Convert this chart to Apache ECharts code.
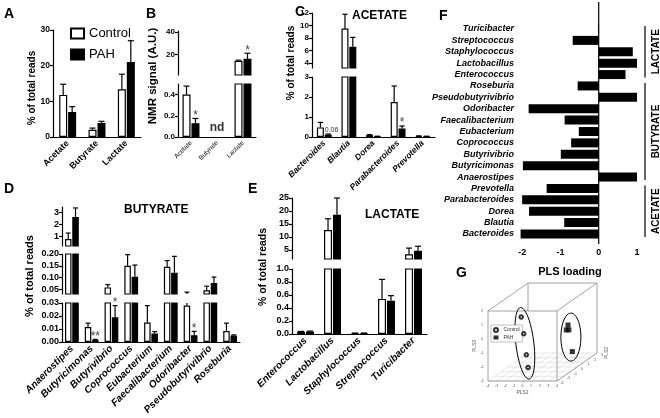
<!DOCTYPE html>
<html><head><meta charset="utf-8">
<script src="https://cdn.jsdelivr.net/npm/echarts@6/dist/echarts.min.js"></script>
<style>html,body{margin:0;padding:0;background:#fff}#c{width:660px;height:418px}</style>
</head><body><div id="c"></div><script>
// ================= DATA =================
// A: % of total reads
const aCats = ['Acetate', 'Butyrate', 'Lactate'];
const aCtrl = [11.8, 2.0, 13.4];
const aCtrlSem = [3.0, 0.5, 4.2];
const aPah = [7.0, 3.9, 21.0];
const aPahSem = [1.5, 0.5, 6.0];

// B: NMR signal (A.U.)
const bCats = ['Acetate', 'Butyrate', 'Lactate'];
const bCtrl = [0.40, null, 14.5];
const bCtrlSem = [0.08, null, 0.6];
const bPah = [0.13, null, 16.3];
const bPahSem = [0.045, null, 5.0];
const bPahSig = ['*', '', '*'];
const bNotDetected = ['', 'nd', ''];

// C: ACETATE producers
const cCats = ['Bacteroides', 'Blautia', 'Dorea', 'Parabacteroides', 'Prevotella'];
const cCtrl = [0.48, 9.5, 0.10, 1.75, 0.05];
const cCtrlSem = [0.25, 2.3, 0.02, 0.8, 0.01];
const cPah = [0.12, 6.6, 0.03, 0.42, 0.03];
const cPahSem = [0.03, 1.5, 0.01, 0.13, 0.01];
const cPahNote = ['0.06', '', '', '*', ''];

// D: BUTYRATE producers
const dCats = ['Anaerostipes', 'Butyricimonas', 'Butyrivibrio', 'Coprococcus', 'Eubacterium',
  'Faecalibacterium', 'Odoribacter', 'Pseudobutyrivibrio', 'Roseburia'];
const dCtrl = [0.78, 0.0115, 0.058, 0.150, 0.015, 0.146, 0.028, 0.046, 0.0085];
const dCtrlSem = [0.50, 0.003, 0.012, 0.047, 0.013, 0.026, 0.010, 0.017, 0.006];
const dPah = [2.62, 0.0015, 0.019, 0.103, 0.0065, 0.120, 0.0052, 0.077, 0.005];
const dPahSem = [0.75, 0.0005, 0.009, 0.050, 0.0015, 0.070, 0.003, 0.025, 0.0005];
const dPahSig = ['', '**', '*', '', '', '', '*', '', ''];

// E: LACTATE producers
const eCats = ['Enterococcus', 'Lactobacillus', 'Staphylococcus', 'Streptococcus', 'Turicibacter'];
const eCtrl = [0.035, 12.7, 0.012, 0.54, 3.3];
const eCtrlSem = [0.005, 4.3, 0.003, 0.30, 2.4];
const ePah = [0.040, 18.5, 0.012, 0.51, 4.7];
const ePahSem = [0.005, 6.5, 0.003, 0.08, 1.7];

// F: PLS loadings
const fCats = ['Turicibacter', 'Streptococcus', 'Staphylococcus', 'Lactobacillus', 'Enterococcus',
  'Roseburia', 'Pseudobutyrivibrio', 'Odoribacter', 'Faecalibacterium', 'Eubacterium', 'Coprococcus',
  'Butyrivibrio', 'Butyricimonas', 'Anaerostipes', 'Prevotella', 'Parabacteroides', 'Dorea', 'Blautia', 'Bacteroides'];
const fLoad = [-0.02, -0.68, 0.89, 1.0, 0.70, -0.55, 1.0, -1.83, -0.89, -0.52, -0.72,
  -0.99, -1.98, 1.0, -1.36, -2.0, -1.82, -0.90, -2.04];
const fGroupNames = ['LACTATE', 'BUTYRATE', 'ACETATE'];
const fGroupFrom = [0, 5, 14];
const fGroupTo = [4, 13, 18];
const fTicks = [-2, -1, 0, 1];

// G: PLS scores [PLS1, PLS2, PLS3]
const gCtrl = [[-1.7, -1, 0.9], [-1.4, -1, -0.3], [-1.1, -1, -1.8], [-0.9, -1, -2.7]];
const gPah = [[1.8, 1.5, -0.5], [1.6, 1.5, -0.85], [1.9, 1.5, -0.85], [2.3, 1.5, -2.4]];
const gTicks1 = [-4, -3, -2, -1, 0, 1, 2, 3, 4];
const gTicks2 = [-3, -2, -1, 0, 1, 2, 3];
const gTicks3 = [-3, -2, -1, 0, 1, 2];

// ================= BUILD =================
const FONT = '"Liberation Sans", Arial, sans-serif';
const BLACK = '#000';
const grids = [], xAxes = [], yAxes = [], series = [];

function errSeries(gi, cfg, grp) {
  const vals = grp ? cfg.pah : cfg.ctrl, sems = grp ? cfg.pahSem : cfg.ctrlSem;
  const notes = (grp ? cfg.pahNote : cfg.ctrlNote) || [];
  const data = [], txt = [];
  vals.forEach((v, i) => { if (v == null) return; data.push([i, v, v + (sems[i] || 0)]); txt.push(notes[i] || ''); });
  const off = (grp ? 1 : -1) * cfg.barW * 0.56;
  const capW = cfg.barW * 0.75;
  return {
    type: 'custom', xAxisIndex: gi, yAxisIndex: gi, z: 4, silent: true, encode: { x: 0, y: [1, 2] }, data,
    renderItem(params, api) {
      const cs = params.coordSys, top = cs.y, bot = cs.y + cs.height;
      const i = api.value(0);
      const x = api.coord([i, 0])[0] + off;
      const yv = api.coord([i, api.value(1)])[1];
      const ye = api.coord([i, api.value(2)])[1];
      const st = { stroke: BLACK, lineWidth: 1.2 };
      const ch = [];
      const y1 = Math.min(yv, bot), y2 = Math.max(ye, top);
      if (y1 - y2 > 0.5) ch.push({ type: 'line', shape: { x1: x, y1: y1, x2: x, y2: y2 }, style: st });
      const capIn = ye >= top - 0.3 && ye < bot - 0.2;
      if (capIn) ch.push({ type: 'line', shape: { x1: x - capW / 2, y1: ye, x2: x + capW / 2, y2: ye }, style: st });
      const t = txt[params.dataIndex];
      if (t && capIn) {
        const isNum = /\d/.test(t);
        ch.push({ type: 'text', x: isNum ? x - 3.5 : x, y: isNum ? ye - 0.5 : ye + 3,
          style: { text: t, fill: isNum ? '#333' : '#444', fontSize: isNum ? 7 : 12, fontFamily: FONT,
            align: isNum ? 'left' : 'center', verticalAlign: 'bottom' } });
      }
      return { type: 'group', children: ch };
    }
  };
}

function panel(cfg) {
  const ids = [];
  cfg.segs.forEach((s, k) => {
    const last = k === cfg.segs.length - 1;
    const gi = grids.length; ids.push(gi);
    grids.push({ left: cfg.left, top: s.top, width: cfg.width, height: s.height, outerBoundsMode: 'none', containLabel: false });
    xAxes.push({
      type: 'category', gridIndex: gi, data: cfg.cats, show: last,
      axisLine: { onZero: false, lineStyle: { color: BLACK, width: 1.2 } },
      axisTick: { alignWithLabel: true, length: 3, lineStyle: { color: BLACK, width: 1.2 } },
      axisLabel: Object.assign({ interval: 0, rotate: 45, margin: 5, color: BLACK, fontFamily: FONT }, cfg.xLabel),
      splitLine: { show: false }
    });
    const fmt = s.fmt || (v => String(v));
    const ya = {
      type: 'value', gridIndex: gi, min: s.min, max: s.max, splitLine: { show: false },
      axisLine: { show: true, onZero: false, lineStyle: { color: BLACK, width: 1.2 } },
      axisTick: { show: true, length: 3, lineStyle: { color: BLACK, width: 1.2 }, customValues: s.ticks },
      axisLabel: { fontSize: cfg.yfs || 9, fontWeight: 'bold', color: BLACK, margin: 3, fontFamily: FONT, formatter: fmt, customValues: s.ticks }
    };
    yAxes.push(ya);
    const mk = (name, vals) => ({
      type: 'bar', name, xAxisIndex: gi, yAxisIndex: gi, data: vals, barWidth: cfg.barW, barGap: '12%', clip: true, silent: true, z: 2,
      itemStyle: name === 'Control' ? { color: '#fff', borderColor: BLACK, borderWidth: 1.2 } : { color: BLACK, borderColor: BLACK, borderWidth: 1.2 }
    });
    series.push(mk('Control', cfg.ctrl), mk('PAH', cfg.pah));
    series.push(errSeries(gi, cfg, 0), errSeries(gi, cfg, 1));
  });
  return ids;
}

const f1 = v => v.toFixed(1), f2 = v => v.toFixed(2);

panel({ cats: aCats, ctrl: aCtrl, ctrlSem: aCtrlSem, pah: aPah, pahSem: aPahSem,
  left: 53, width: 88, barW: 8, yfs: 8.5, xLabel: { fontSize: 9, fontWeight: 'bold' },
  segs: [{ top: 30, height: 107, min: 0, max: 30, ticks: [0, 10, 20, 30] }] });

const bIds = panel({ cats: bCats, ctrl: bCtrl, ctrlSem: bCtrlSem, pah: bPah, pahSem: bPahSem, pahNote: bPahSig,
  left: 178, width: 78, barW: 8, yfs: 8, xLabel: { fontSize: 6.5, fontWeight: 'normal' },
  segs: [{ top: 31, height: 44, min: 2, max: 41, ticks: [20, 40] },
         { top: 84, height: 53, min: 0, max: 0.5, ticks: [0, 0.2, 0.4], fmt: f1 }] });
series.push({ type: 'scatter', xAxisIndex: bIds[1], yAxisIndex: bIds[1], silent: true, symbolSize: 0,
  data: bNotDetected.map((t, i) => t ? [i, 0.09] : null).filter(Boolean),
  label: { show: true, position: 'inside', formatter: p => bNotDetected[p.value[0]], fontSize: 12, fontWeight: 'bold', color: BLACK, fontFamily: FONT } });

panel({ cats: cCats, ctrl: cCtrl, ctrlSem: cCtrlSem, pah: cPah, pahSem: cPahSem, pahNote: cPahNote,
  left: 312, width: 123, barW: 7, yfs: 8, xLabel: { fontSize: 8.5, fontWeight: 'bold', fontStyle: 'italic' },
  segs: [{ top: 13, height: 55, min: 3.2, max: 12, ticks: [4, 6, 8, 10, 12] },
         { top: 77, height: 60, min: 0, max: 3, ticks: [0, 1, 2, 3] }] });

panel({ cats: dCats, ctrl: dCtrl, ctrlSem: dCtrlSem, pah: dPah, pahSem: dPahSem, pahNote: dPahSig,
  left: 62, width: 178, barW: 6.5, yfs: 9, xLabel: { fontSize: 10, fontWeight: 'bold', fontStyle: 'italic' },
  segs: [{ top: 207, height: 39, min: 0.2, max: 3.45, ticks: [1, 2, 3] },
         { top: 254, height: 40, min: 0.03, max: 0.2, ticks: [0.05, 0.1, 0.15, 0.2], fmt: f2 },
         { top: 303, height: 39, min: 0, max: 0.03, ticks: [0, 0.01, 0.02, 0.03], fmt: f2 }] });

panel({ cats: eCats, ctrl: eCtrl, ctrlSem: eCtrlSem, pah: ePah, pahSem: ePahSem,
  left: 292, width: 135, barW: 8, yfs: 9, xLabel: { fontSize: 10, fontWeight: 'bold', fontStyle: 'italic' },
  segs: [{ top: 198, height: 61, min: 1.5, max: 25, ticks: [5, 10, 15, 20, 25] },
         { top: 269, height: 65, min: 0, max: 1, ticks: [0, 0.2, 0.4, 0.6, 0.8, 1.0], fmt: f1 }] });

// ---- F ----
const fg = grids.length;
grids.push({ left: 503, top: 29, width: 134, height: 205, outerBoundsMode: 'none', containLabel: false });
xAxes.push({ type: 'value', gridIndex: fg, min: -2.5, max: 1, offset: 10, splitLine: { show: false },
  axisLine: { onZero: false, lineStyle: { color: BLACK, width: 1.2 } },
  axisTick: { length: 3, lineStyle: { color: BLACK, width: 1.2 }, customValues: fTicks },
  axisLabel: { customValues: fTicks, fontSize: 9, fontWeight: 'bold', color: BLACK, margin: 4, fontFamily: FONT },
  name: 'PLS loading', nameLocation: 'middle', nameGap: 22,
  nameTextStyle: { fontSize: 11, fontWeight: 'bold', color: BLACK, fontFamily: FONT } });
yAxes.push({ type: 'category', gridIndex: fg, data: fCats, inverse: true, boundaryGap: false, position: 'left',
  axisLine: { show: false, onZero: false }, axisTick: { show: false },
  axisLabel: { interval: 0, margin: -11, fontSize: 9, fontWeight: 'bold', fontStyle: 'italic', color: BLACK, fontFamily: FONT } });
series.push({ type: 'bar', xAxisIndex: fg, yAxisIndex: fg, data: fLoad, barWidth: 9, silent: true, itemStyle: { color: BLACK } });

// ---- G ----
const gg = grids.length;
function proj(p) { return [p[0] + 0.773 * (p[1] + 3), p[2] + (p[1] + 3) / 3]; }
grids.push({ left: 488, top: 283, width: 109, height: 98, outerBoundsMode: 'none', containLabel: false });
xAxes.push({ type: 'value', gridIndex: gg, min: -4, max: 8.638, show: false });
yAxes.push({ type: 'value', gridIndex: gg, min: -3, max: 4, show: false });
const g1 = gTicks1, g2 = gTicks2, g3 = gTicks3;
const l1 = g1[0], h1 = g1[g1.length - 1], l2 = g2[0], h2 = g2[g2.length - 1], l3 = g3[0], h3 = g3[g3.length - 1];
series.push({ type: 'custom', xAxisIndex: gg, yAxisIndex: gg, silent: true, z: 1, data: [[0, 0]], encode: { x: 0, y: 1 },
  renderItem(params, api) {
    const P = (a, b, c) => api.coord(proj([a, b, c]));
    const ch = [];
    const line = (p, q, stroke, w) => ch.push({ type: 'line', shape: { x1: p[0], y1: p[1], x2: q[0], y2: q[1] }, style: { stroke, lineWidth: w } });
    const tx = (p, dx, dy, s, o) => ch.push({ type: 'text', x: p[0] + dx, y: p[1] + dy, rotation: (o && o.rot) || 0,
      style: { text: s, fill: '#555', fontSize: (o && o.fs) || 3.6, fontFamily: FONT, align: 'center', verticalAlign: 'middle' } });
    const gc = '#d2d2d2', ec = '#8c8c8c';
    g1.forEach(a => line(P(a, l2, l3), P(a, h2, l3), gc, 0.5));
    g2.forEach(b => line(P(l1, b, l3), P(h1, b, l3), gc, 0.5));
    line(P(l1, l2, l3), P(h1, l2, l3), ec, 0.8); line(P(h1, l2, l3), P(h1, l2, h3), ec, 0.8);
    line(P(h1, l2, h3), P(l1, l2, h3), ec, 0.8); line(P(l1, l2, h3), P(l1, l2, l3), ec, 0.8);
    line(P(l1, h2, h3), P(h1, h2, h3), ec, 0.8); line(P(h1, h2, h3), P(h1, h2, l3), ec, 0.8);
    line(P(l1, l2, h3), P(l1, h2, h3), ec, 0.8); line(P(h1, l2, h3), P(h1, h2, h3), ec, 0.8);
    line(P(h1, l2, l3), P(h1, h2, l3), ec, 0.8); line(P(l1, h2, h3), P(l1, h2, 0), ec, 0.8);
    g1.forEach(a => tx(P(a, l2, l3), 0, 5, String(a)));
    g2.forEach(b => tx(P(h1, b, l3), 5, 2, String(b)));
    g3.forEach(c => tx(P(l1, l2, c), -6, 0, String(c)));
    tx(P(0, l2, l3), 0, 12, 'PLS1', { fs: 5 });
    tx(P(h1, 0, l3), 30, -14, 'PLS2', { fs: 5, rot: Math.PI / 2 });
    tx(P(l1, l2, -0.5), -13, 0, 'PLS3', { fs: 5, rot: Math.PI / 2 });
    return { type: 'group', children: ch };
  } });
series.push({ type: 'scatter', name: 'Control G', xAxisIndex: gg, yAxisIndex: gg, silent: true, z: 4,
  data: gCtrl.map(proj), symbol: 'emptyCircle', symbolSize: 3.5, itemStyle: { color: '#000', borderWidth: 0.8 } });
series.push({ type: 'scatter', name: 'PAH G', xAxisIndex: gg, yAxisIndex: gg, silent: true, z: 4,
  data: gPah.map(proj), symbol: 'rect', symbolSize: 5, itemStyle: { color: '#000' } });
const centroid = arr => { const p = arr.map(proj); return [p.reduce((s, q) => s + q[0], 0) / p.length, p.reduce((s, q) => s + q[1], 0) / p.length]; };
const gEllStyle = [{ rx: 9, ry: 36, rot: -0.12, dx: 0, dy: 0 }, { rx: 10, ry: 24, rot: 0, dx: 2, dy: 3 }];
series.push({ type: 'custom', xAxisIndex: gg, yAxisIndex: gg, silent: true, z: 3, data: [centroid(gCtrl), centroid(gPah)], encode: { x: 0, y: 1 },
  renderItem(params, api) {
    const e = gEllStyle[params.dataIndex];
    const c = api.coord([api.value(0), api.value(1)]);
    const pts = [];
    for (let k = 0; k < 48; k++) {
      const t = k / 48 * Math.PI * 2, ex = e.rx * Math.cos(t), ey = e.ry * Math.sin(t);
      pts.push([c[0] + e.dx + ex * Math.cos(e.rot) - ey * Math.sin(e.rot), c[1] + e.dy + ex * Math.sin(e.rot) + ey * Math.cos(e.rot)]);
    }
    return { type: 'polygon', shape: { points: pts }, style: { fill: 'none', stroke: '#000', lineWidth: 1 } };
  } });

const option = {
  animation: false,
  textStyle: { fontFamily: FONT },
  grid: grids, xAxis: xAxes, yAxis: yAxes, series,
  legend: [
    { left: 65, top: 22, orient: 'vertical', icon: 'rect', itemWidth: 13, itemHeight: 10, itemGap: 8, selectedMode: false,
      textStyle: { fontSize: 13, color: BLACK, fontFamily: FONT }, data: ['Control', 'PAH'] },
    { left: 491, top: 325, orient: 'vertical', itemWidth: 5, itemHeight: 4, itemGap: 2, padding: [2, 3, 2, 2], selectedMode: false,
      borderColor: '#999', borderWidth: 0.6, backgroundColor: '#fff',
      textStyle: { fontSize: 5, color: '#333', fontFamily: FONT }, data: ['Control G', 'PAH G'], formatter: n => n.replace(' G', '') }
  ]
};

const chart = echarts.init(document.getElementById('c'), null, { renderer: 'canvas' });
chart.setOption(option);

// ---- graphics: letters, titles, axis titles, F zero line and group brackets ----
const T = (x, y, s, o) => ({ type: 'text', x, y, rotation: (o && o.rot) || 0, z: 10,
  style: Object.assign({ text: s, fill: BLACK, fontFamily: FONT, fontWeight: 'bold', fontSize: 14, align: 'left', verticalAlign: 'top' }, (o && o.st) || {}) });
const V = (x, y, s, fs) => T(x, y, s, { rot: Math.PI / 2, st: { fontSize: fs, align: 'center', verticalAlign: 'middle' } });
const gr = [
  T(4, 7, 'A'), T(146, 7, 'B'), T(295, 5, 'C'), T(439, 9, 'F'), T(4, 182, 'D'), T(248, 182, 'E'), T(456, 266, 'G'),
  T(352, 10, 'ACETATE', { st: { fontSize: 12 } }), T(124, 204, 'BUTYRATE', { st: { fontSize: 12 } }), T(365, 209, 'LACTATE', { st: { fontSize: 12 } }),
  V(32, 88, '% of total reads', 10), V(153, 76, 'NMR signal (A.U.)', 11.5), V(291, 63, '% of total reads', 10),
  V(30, 276, '% of total reads', 11), V(263, 267, '% of total reads', 10.5)
];
const x0 = chart.convertToPixel({ xAxisIndex: fg }, 0);
const yBot = chart.convertToPixel({ yAxisIndex: fg }, fCats.length - 1);
gr.push({ type: 'line', z: 10, shape: { x1: x0, y1: 2, x2: x0, y2: yBot + 10 }, style: { stroke: BLACK, lineWidth: 1.2 } });
const bx = chart.convertToPixel({ xAxisIndex: fg }, 1) + 8;
fGroupNames.forEach((n, k) => {
  const y1 = chart.convertToPixel({ yAxisIndex: fg }, fGroupFrom[k]) - 3;
  const y2 = chart.convertToPixel({ yAxisIndex: fg }, fGroupTo[k]) + 3;
  gr.push({ type: 'line', z: 10, shape: { x1: bx, y1, x2: bx, y2 }, style: { stroke: BLACK, lineWidth: 1.2 } });
  gr.push(V(bx + 11, (y1 + y2) / 2, n, 10));
});
chart.setOption({ graphic: gr });
</script></body></html>
